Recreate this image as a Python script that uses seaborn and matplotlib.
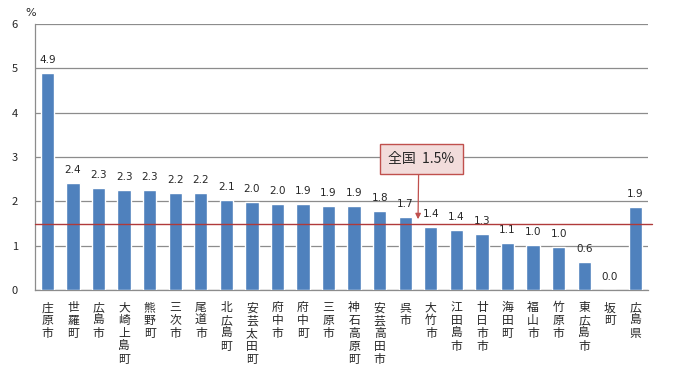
import seaborn as sns
import matplotlib.pyplot as plt

# municipalities (last one is the prefecture total)
names = ['庄原市', '世羅町', '広島市', '大崎上島町', '熊野町', '三次市', '尾道市', '北広島町',
         '安芸太田町', '府中市', '府中町', '三原市', '神石高原町', '安芸高田市', '呉市', '大竹市',
         '江田島市', '廿日市市', '海田町', '福山市', '竹原市', '東広島市', '坂町', '広島県']
values = [4.90, 2.42, 2.30, 2.26, 2.26, 2.20, 2.20, 2.04, 1.98, 1.95, 1.95, 1.90,
          1.89, 1.78, 1.65, 1.42, 1.35, 1.26, 1.06, 1.02, 0.97, 0.63, 0.0, 1.87]
value_labels = ['4.9', '2.4', '2.3', '2.3', '2.3', '2.2', '2.2', '2.1', '2.0', '2.0', '1.9', '1.9',
                '1.9', '1.8', '1.7', '1.4', '1.4', '1.3', '1.1', '1.0', '1.0', '0.6', '0.0', '1.9']
national = 1.5
national_label = '全国  1.5%'

sns.set_style('white')
plt.rcParams['font.family'] = ['Noto Sans CJK JP', 'DejaVu Sans']

fig = plt.figure(figsize=(6.8, 3.71), dpi=100)
ax = fig.add_axes([0.051, 0.218, 0.902, 0.717])

sns.barplot(x=names, y=values, color='#4F81BD', width=0.52, saturation=1, ax=ax, zorder=3)

ax.set_ylim(0, 6)
ax.set_xlim(-0.5, len(names) - 0.5)
ax.set_yticks(range(0, 7))
ax.yaxis.grid(True, color='#8c8c8c', linewidth=0.9, zorder=0)
ax.set_axisbelow(True)
sns.despine(ax=ax, top=True, right=True)
for s in ['left', 'bottom']:
    ax.spines[s].set_color('#8c8c8c')
    ax.spines[s].set_linewidth(0.9)

ax.tick_params(axis='y', length=0, pad=12, labelsize=8)
ax.set_xticks(range(len(names)))
ax.set_xticklabels(['\n'.join(n) for n in names], fontsize=8.5, linespacing=1.0, va='top')
ax.tick_params(axis='x', which='major', length=0, pad=8)
ax.set_xticks([i - 0.5 for i in range(len(names) + 1)], minor=True)
ax.tick_params(axis='x', which='minor', length=4, color='#8c8c8c', width=0.9)
ax.set_xlabel('')
ax.set_ylabel('')

for i, (v, t) in enumerate(zip(values, value_labels)):
    ax.text(i, v + 0.18, t, ha='center', va='bottom', fontsize=7.5, family=['DejaVu Sans'])

# national average line, running a little past the plot area
ax.axhline(national, xmax=1.007, color='#B03A3A', linewidth=1, zorder=4, clip_on=False)

ax.annotate(national_label, xy=(14.5, 1.6), xytext=(14.63, 2.96), textcoords='data',
            ha='center', va='center', fontsize=10,
            bbox=dict(boxstyle='square,pad=0.6', fc='#F2DCDB', ec='#C0504D', lw=1),
            arrowprops=dict(arrowstyle='-|>', color='#C0504D', lw=0.9, mutation_scale=8,
                            relpos=(0.46, 0.0), shrinkA=0, shrinkB=0),
            zorder=5)

fig.text(0.038, 0.965, '%', fontsize=8, ha='left', va='center', family=['DejaVu Sans'])

fig.savefig('out.png', dpi=100)
